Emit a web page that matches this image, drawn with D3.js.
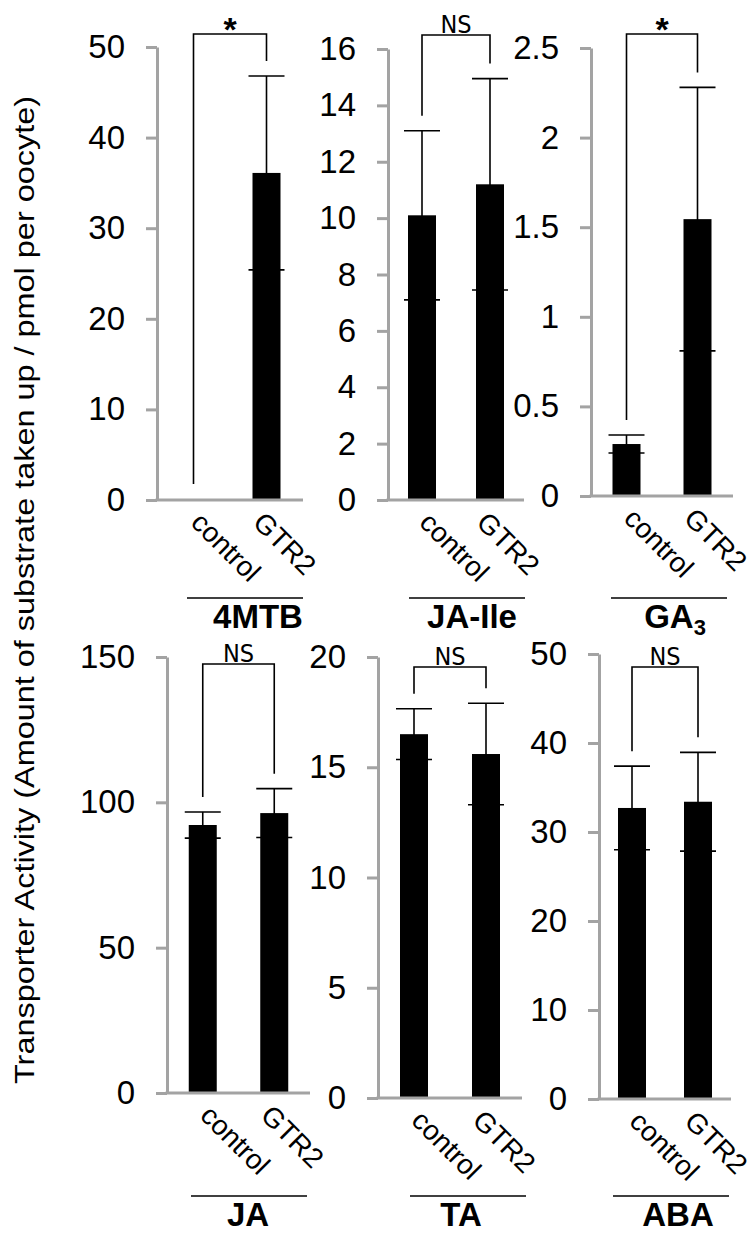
<!DOCTYPE html>
<html>
<head>
<meta charset="utf-8">
<script src="https://cdn.jsdelivr.net/npm/d3@7"></script>
<style>
body { margin: 0; background: #fff; }
text { font-family: "Liberation Sans", Arial, sans-serif; }
</style>
</head>
<body>
<svg id="mysvg" width="754" height="1234"></svg>
<script>
let substrates = ["4MTB", "JA-Ile", "GA3", "JA", "TA", "ABA"];
let groups = ["control", "GTR2"];
let controlMean = [0.1, 10.1, 0.29, 92.2, 16.5, 32.7];
let controlErr = [0, 3.0, 0.05, 4.5, 1.15, 4.7];
let gtr2Mean = [36.1, 11.2, 1.545, 96.3, 15.6, 33.4];
let gtr2Err = [10.7, 3.75, 0.735, 8.4, 2.3, 5.55];
let yMax = [50, 16, 2.5, 150, 20, 50];
let tickLists = [
    [0, 10, 20, 30, 40, 50],
    [0, 2, 4, 6, 8, 10, 12, 14, 16],
    [0, 0.5, 1, 1.5, 2, 2.5],
    [0, 50, 100, 150],
    [0, 5, 10, 15, 20],
    [0, 10, 20, 30, 40, 50]
];
let signif = ["*", "NS", "*", "NS", "NS", "NS"];

// where each small chart sits on the page
let frames = [
    {x0:157, x1:303, y0:500,  yTop:47,  bracketY:34,  lineY:598,  lineC:245, textC:258},
    {x0:388, x1:524, y0:500,  yTop:49,  bracketY:35,  lineY:598,  lineC:467, textC:472},
    {x0:591, x1:733, y0:496,  yTop:48,  bracketY:34,  lineY:598,  lineC:669, textC:675},
    {x0:167, x1:310, y0:1093, yTop:657, bracketY:664, lineY:1196, lineC:249, textC:248},
    {x0:378, x1:522, y0:1098, yTop:657, bracketY:667, lineY:1196, lineC:468, textC:461},
    {x0:599, x1:731, y0:1099, yTop:654, bracketY:667, lineY:1196, lineC:671, textC:678}
];
// rotated labels start a little left of their bar centre
let labelShift = {control: -4, GTR2: -15};

let gray = "#a3a3a3";
let barWidth = 28;
let capHalf = 18;
let legGap = 15;

let svg = d3.select('#mysvg');

svg.append("text")
    .attr("transform", "translate(34,590) rotate(-90)")
    .attr("text-anchor", "middle")
    .attr("font-size", 28)
    .attr("textLength", 988)
    .attr("lengthAdjust", "spacingAndGlyphs")
    .attr("fill", "black")
    .text("Transporter Activity (Amount of substrate taken up / pmol per oocyte)");

for (let i = 0; i < substrates.length; ++i)
    drawPanel(i);


function drawPanel(i)
{
    let f = frames[i];
    let g = svg.append("g").attr("class", "panel");

    let y = d3.scaleLinear().domain([0, yMax[i]]).range([f.y0, f.yTop]);
    let x = d3.scalePoint().domain(groups).range([f.x0, f.x1]).padding(0.5);

    let rows = [
        {name: groups[0], mean: controlMean[i], err: controlErr[i]},
        {name: groups[1], mean: gtr2Mean[i], err: gtr2Err[i]}
    ];

    // y axis
    let axis = g.append("g")
        .attr("transform", "translate(" + f.x0 + ",0)")
        .call(d3.axisLeft(y)
            .tickValues(tickLists[i])
            .tickSize(11)
            .tickSizeOuter(0)
            .tickPadding(21)
            .tickFormat(d => String(d)));
    axis.select(".domain").attr("stroke", gray).attr("stroke-width", 3);
    axis.selectAll(".tick line").attr("stroke", gray).attr("stroke-width", 3);
    axis.selectAll(".tick text")
        .attr("font-size", 33)
        .attr("font-family", "Liberation Sans, Arial, sans-serif")
        .attr("fill", "black");

    // bars
    g.selectAll("rect.bar")
        .data(rows)
        .enter()
        .append("rect")
        .attr("class", "bar")
        .attr("x", d => x(d.name) - barWidth / 2)
        .attr("width", barWidth)
        .attr("y", d => y(d.mean))
        .attr("height", d => f.y0 - y(d.mean))
        .attr("fill", "black");

    // baseline
    g.append("line")
        .attr("x1", f.x0 - 1.5).attr("x2", f.x1)
        .attr("y1", f.y0).attr("y2", f.y0)
        .attr("stroke", gray).attr("stroke-width", 3);

    // error bars
    let errs = rows.filter(d => d.err > 0);
    let eb = g.selectAll("g.err").data(errs).enter().append("g").attr("class", "err")
        .attr("stroke", "black").attr("stroke-width", 1.6);
    eb.append("line")
        .attr("x1", d => x(d.name)).attr("x2", d => x(d.name))
        .attr("y1", d => y(d.mean - d.err)).attr("y2", d => y(d.mean + d.err));
    eb.append("line")
        .attr("x1", d => x(d.name) - capHalf).attr("x2", d => x(d.name) + capHalf)
        .attr("y1", d => y(d.mean + d.err)).attr("y2", d => y(d.mean + d.err));
    eb.append("line")
        .attr("x1", d => x(d.name) - capHalf).attr("x2", d => x(d.name) + capHalf)
        .attr("y1", d => y(d.mean - d.err)).attr("y2", d => y(d.mean - d.err));

    // bracket + mark
    let xl = x(groups[0]), xr = x(groups[1]);
    let legL = y(rows[0].mean + rows[0].err) - legGap;
    let legR = y(rows[1].mean + rows[1].err) - legGap;
    g.append("path")
        .attr("d", "M" + xl + "," + legL + "V" + f.bracketY + "H" + xr + "V" + legR)
        .attr("fill", "none")
        .attr("stroke", "black")
        .attr("stroke-width", 1.6);

    if (signif[i] == "*")
    {
        g.append("text")
            .attr("x", (xl + xr) / 2)
            .attr("y", f.bracketY + 7)
            .attr("text-anchor", "middle")
            .attr("font-size", 34)
            .attr("font-weight", "bold")
            .text("*");
    }
    else
    {
        g.append("text")
            .attr("x", (xl + xr) / 2)
            .attr("y", f.bracketY - 2)
            .attr("text-anchor", "middle")
            .attr("font-size", 25)
            .style("font-family", "'Liberation Sans Narrow', 'DejaVu Sans Condensed', sans-serif")
            .text(signif[i]);
    }

    // rotated category labels
    g.selectAll("text.cat")
        .data(groups)
        .enter()
        .append("text")
        .attr("class", "cat")
        .attr("transform", d => "translate(" + (x(d) + labelShift[d]) + "," + (f.y0 + 24) + ") rotate(45)")
        .attr("font-size", 28)
        .attr("fill", "black")
        .text(d => d);

    // substrate label under a rule
    g.append("line")
        .attr("x1", f.lineC - 58).attr("x2", f.lineC + 58)
        .attr("y1", f.lineY).attr("y2", f.lineY)
        .attr("stroke", "black").attr("stroke-width", 1.6);

    let lab = g.append("text")
        .attr("x", f.textC)
        .attr("y", f.lineY + 30)
        .attr("text-anchor", "middle")
        .attr("font-size", 33)
        .attr("font-weight", "bold")
        .attr("fill", "black");
    let name = substrates[i];
    if (name == "GA3")
    {
        lab.append("tspan").text("GA");
        lab.append("tspan").attr("font-size", 22).attr("dy", 7).text("3");
    }
    else
        lab.text(name);
}
</script>
</body>
</html>
